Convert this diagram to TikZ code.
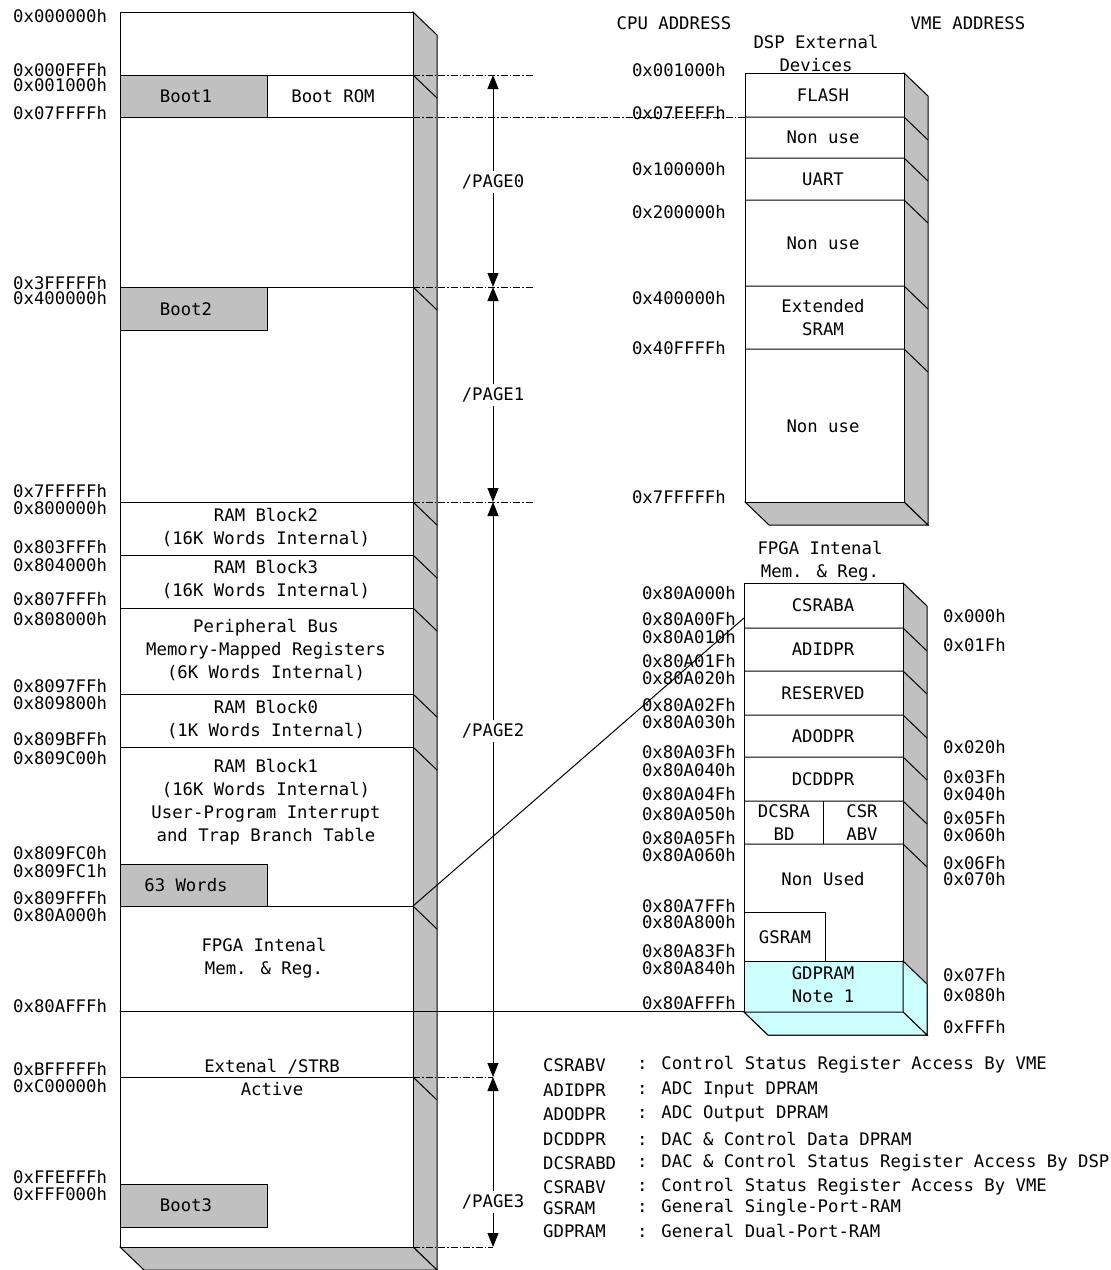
\documentclass[tikz,border=0pt]{standalone}
\usepackage{fontspec}
\usepackage{tikz}
\usetikzlibrary{arrows.meta}
\usepackage{tkz-euclide}
\newfontfamily\mapfamily{DejaVu Sans Mono}
\newcommand{\mapfont}{\mapfamily\fontsize{17.3}{23}\selectfont}
\definecolor{sidegray}{RGB}{192,192,192}
\definecolor{gdcyan}{RGB}{204,255,255}
% front face with side and bottom faces: x1 y1 x2 y2
\newcommand{\membox}[4]{%
  \filldraw[side] (#3,#2) -- ++(24,23) -- (#3+24,#4+23) -- (#3,#4) -- cycle;
  \filldraw[side] (#1,#4) -- ++(24,23) -- (#3+24,#4+23) -- (#3,#4) -- cycle;
  \draw[memline,fill=white] (#1,#2) rectangle (#3,#4);}

\begin{document}
\begin{tikzpicture}[x=1pt,y=-1pt,
    lbl/.style={font=\mapfont,inner sep=1pt},
    addr/.style={lbl,anchor=west}, addrr/.style={lbl,anchor=east},
    cell/.style={lbl,align=center},
    memline/.style={line width=1pt},
    side/.style={memline,fill=sidegray},
    dd/.style={line width=.8pt,dash pattern=on 7pt off 2pt on 1.5pt off 2pt},
    pagetip/.tip={Triangle[length=14pt,width=11pt]},
    pagearrow/.style={pagetip-pagetip,line width=1pt},
    pagelbl/.style={lbl,fill=white,inner sep=4pt}]
\useasboundingbox (0,0) rectangle (1111,1270);

% DSP memory map
\membox{120}{12}{413}{1247}
\foreach \y in {75,287,502,555,608,694,747,906,1077}
  \draw[memline] (413,\y) -- ++(24,23);
\foreach \y in {75,117,287,502,555,608,694,747,906,1077}
  \draw[memline] (120,\y) -- (413,\y);
\foreach \ya/\yb in {75/117,287/330,864/906,1184/1227}
  \draw[side] (120,\ya) rectangle (267,\yb);

% DSP external devices
\membox{745}{73}{904}{502}
\foreach \y in {117,158,200,286,349}{
  \draw[memline] (745,\y) -- (904,\y) -- ++(24,23);}

% FPGA internal
\membox{744}{583}{903}{1012}
\filldraw[memline,fill=gdcyan] (744,961) rectangle (903,1012);
\filldraw[memline,fill=gdcyan] (903,961) -- ++(24,23) -- (927,1035) -- (903,1012) -- cycle;
\filldraw[memline,fill=gdcyan] (744,1012) -- ++(24,23) -- (927,1035) -- (903,1012) -- cycle;
\foreach \y in {628,671,715,757,801,844}{
  \draw[memline] (744,\y) -- (903,\y) -- ++(24,23);}
\draw[memline] (823,801) -- (823,844);
\draw[memline] (744,912) -| (825,961);

% page borders
\foreach \y/\xe in {75/534,117/745,287/534,502/534,1077/493,1247/493}
  \draw[dd] (413,\y) -- (\xe,\y);
\tkzDefPoints{493/75/P0, 493/287/P1, 493/502/P2, 493/1077/P3, 493/1247/P4}
\draw[pagearrow] (P0) -- (P1);
\draw[pagearrow] (P1) -- (P2);
\draw[pagearrow] (P2) -- (P3);
\draw[pagearrow] (P3) -- (P4);
\node[pagelbl] (pg0) at (493,182) {/PAGE0};
\node[pagelbl] (pg1) at (493,395) {/PAGE1};
\node[pagelbl] (pg2) at (493,731) {/PAGE2};
\node[pagelbl] (pg3) at (493,1202) {/PAGE3};

% link to FPGA detail
\tkzDefPoints{413/906/L1, 744/618/L2, 120/1011/H1, 744/1011/H2}
\tkzDrawSegments[memline](L1,L2 H1,H2)

% addresses
\foreach \y/\a [count=\i] in {16/0x000000h,70/0x000FFFh,85/0x001000h,113/0x07FFFFh,
    283/0x3FFFFFh,298/0x400000h,491/0x7FFFFFh,508/0x800000h,547/0x803FFFh,
    565/0x804000h,599/0x807FFFh,619/0x808000h,686/0x8097FFh,703/0x809800h,
    739/0x809BFFh,758/0x809C00h,853/0x809FC0h,871/0x809FC1h,898/0x809FFFh,
    915/0x80A000h,1006/0x80AFFFh,1069/0xBFFFFFh,1086/0xC00000h,
    1177/0xFFEFFFh,1194/0xFFF000h}
  \node[addr] (ca\i) at (12,\y) {\a};
\foreach \y/\a [count=\i] in {70/0x001000h,113/0x07FFFFh,169/0x100000h,
    212/0x200000h,298/0x400000h,348/0x40FFFFh,497/0x7FFFFFh}
  \node[addrr] (da\i) at (727,\y) {\a};
\foreach \y/\a [count=\i] in {593/0x80A000h,619/0x80A00Fh,637/0x80A010h,
    661/0x80A01Fh,678/0x80A020h,705/0x80A02Fh,722/0x80A030h,752/0x80A03Fh,
    770/0x80A040h,794/0x80A04Fh,814/0x80A050h,838/0x80A05Fh,855/0x80A060h,
    906/0x80A7FFh,922/0x80A800h,951/0x80A83Fh,968/0x80A840h,1003/0x80AFFFh}
  \node[addrr] (fa\i) at (737,\y) {\a};
\foreach \y/\a [count=\i] in {616/0x000h,645/0x01Fh,747/0x020h,777/0x03Fh,
    794/0x040h,818/0x05Fh,835/0x060h,863/0x06Fh,879/0x070h,975/0x07Fh,
    995/0x080h,1027/0xFFFh}
  \node[addr] (va\i) at (942,\y) {\a};

% headers
\node[lbl] (cpuh) at (674,23) {CPU ADDRESS};
\node[lbl] (vmeh) at (968,23) {VME ADDRESS};
\node[cell] (dsph) at (816,53) {DSP External\\Devices};
\node[cell] (fpgah) at (820,561) {FPGA Intenal\\Mem. \& Reg.};

% DSP map cells
\node[lbl] (boot1) at (186,96) {Boot1};
\node[lbl] (bootrom) at (333,96) {Boot ROM};
\node[lbl] (boot2) at (186,309) {Boot2};
\node[cell] (ram2) at (266,528) {RAM Block2\\(16K Words Internal)};
\node[cell] (ram3) at (266,580) {RAM Block3\\(16K Words Internal)};
\node[cell] (pbus) at (266,650) {Peripheral Bus\\Memory-Mapped Registers\\(6K Words Internal)};
\node[cell] (ram0) at (266,720) {RAM Block0\\(1K Words Internal)};
\node[cell] (ram1) at (266,802) {RAM Block1\\(16K Words Internal)\\User-Program Interrupt\\and Trap Branch Table};
\node[lbl] (w63) at (186,885) {63 Words};
\node[cell] (fpga) at (264,958) {FPGA Intenal\\Mem. \& Reg.};
\node[cell] (strb) at (272,1077) {Extenal /STRB\\Active};
\node[lbl] (boot3) at (186,1205) {Boot3};

% external device cells
\node[lbl] (flash) at (823,95) {FLASH};
\node[lbl] (nu1) at (823,137) {Non use};
\node[lbl] (uart) at (823,179) {UART};
\node[lbl] (nu2) at (823,243) {Non use};
\node[cell] (xsram) at (823,318) {Extended\\SRAM};
\node[lbl] (nu3) at (823,426) {Non use};

% FPGA cells
\node[lbl] (csraba) at (823,605) {CSRABA};
\node[lbl] (adidpr) at (823,649) {ADIDPR};
\node[lbl] (resv) at (823,693) {RESERVED};
\node[lbl] (adodpr) at (823,736) {ADODPR};
\node[lbl] (dcddpr) at (823,779) {DCDDPR};
\node[cell] (dcsrabd) at (784,823) {DCSRA\\BD};
\node[cell] (csrabv) at (862,823) {CSR\\ABV};
\node[lbl] (nused) at (823,879) {Non Used};
\node[lbl] (gsram) at (785,937) {GSRAM};
\node[cell] (gdpram) at (823,985) {GDPRAM\\Note 1};

% legend
\foreach \y/\ab/\ds [count=\i] in {1065/CSRABV/Control Status Register Access By VME,
    1090/ADIDPR/ADC Input DPRAM, 1114/ADODPR/ADC Output DPRAM,
    1139/DCDDPR/DAC \& Control Data DPRAM,
    1163/DCSRABD/DAC \& Control Status Register Access By DSP,
    1187/CSRABV/Control Status Register Access By VME,
    1208/GSRAM/General Single-Port-RAM, 1231/GDPRAM/General Dual-Port-RAM}{
  \node[addr] (ab\i) at (542,\y) {\ab};
  \node[addr] (ds\i) at (636,\y) {: \ds};}
\end{tikzpicture}
\end{document}
